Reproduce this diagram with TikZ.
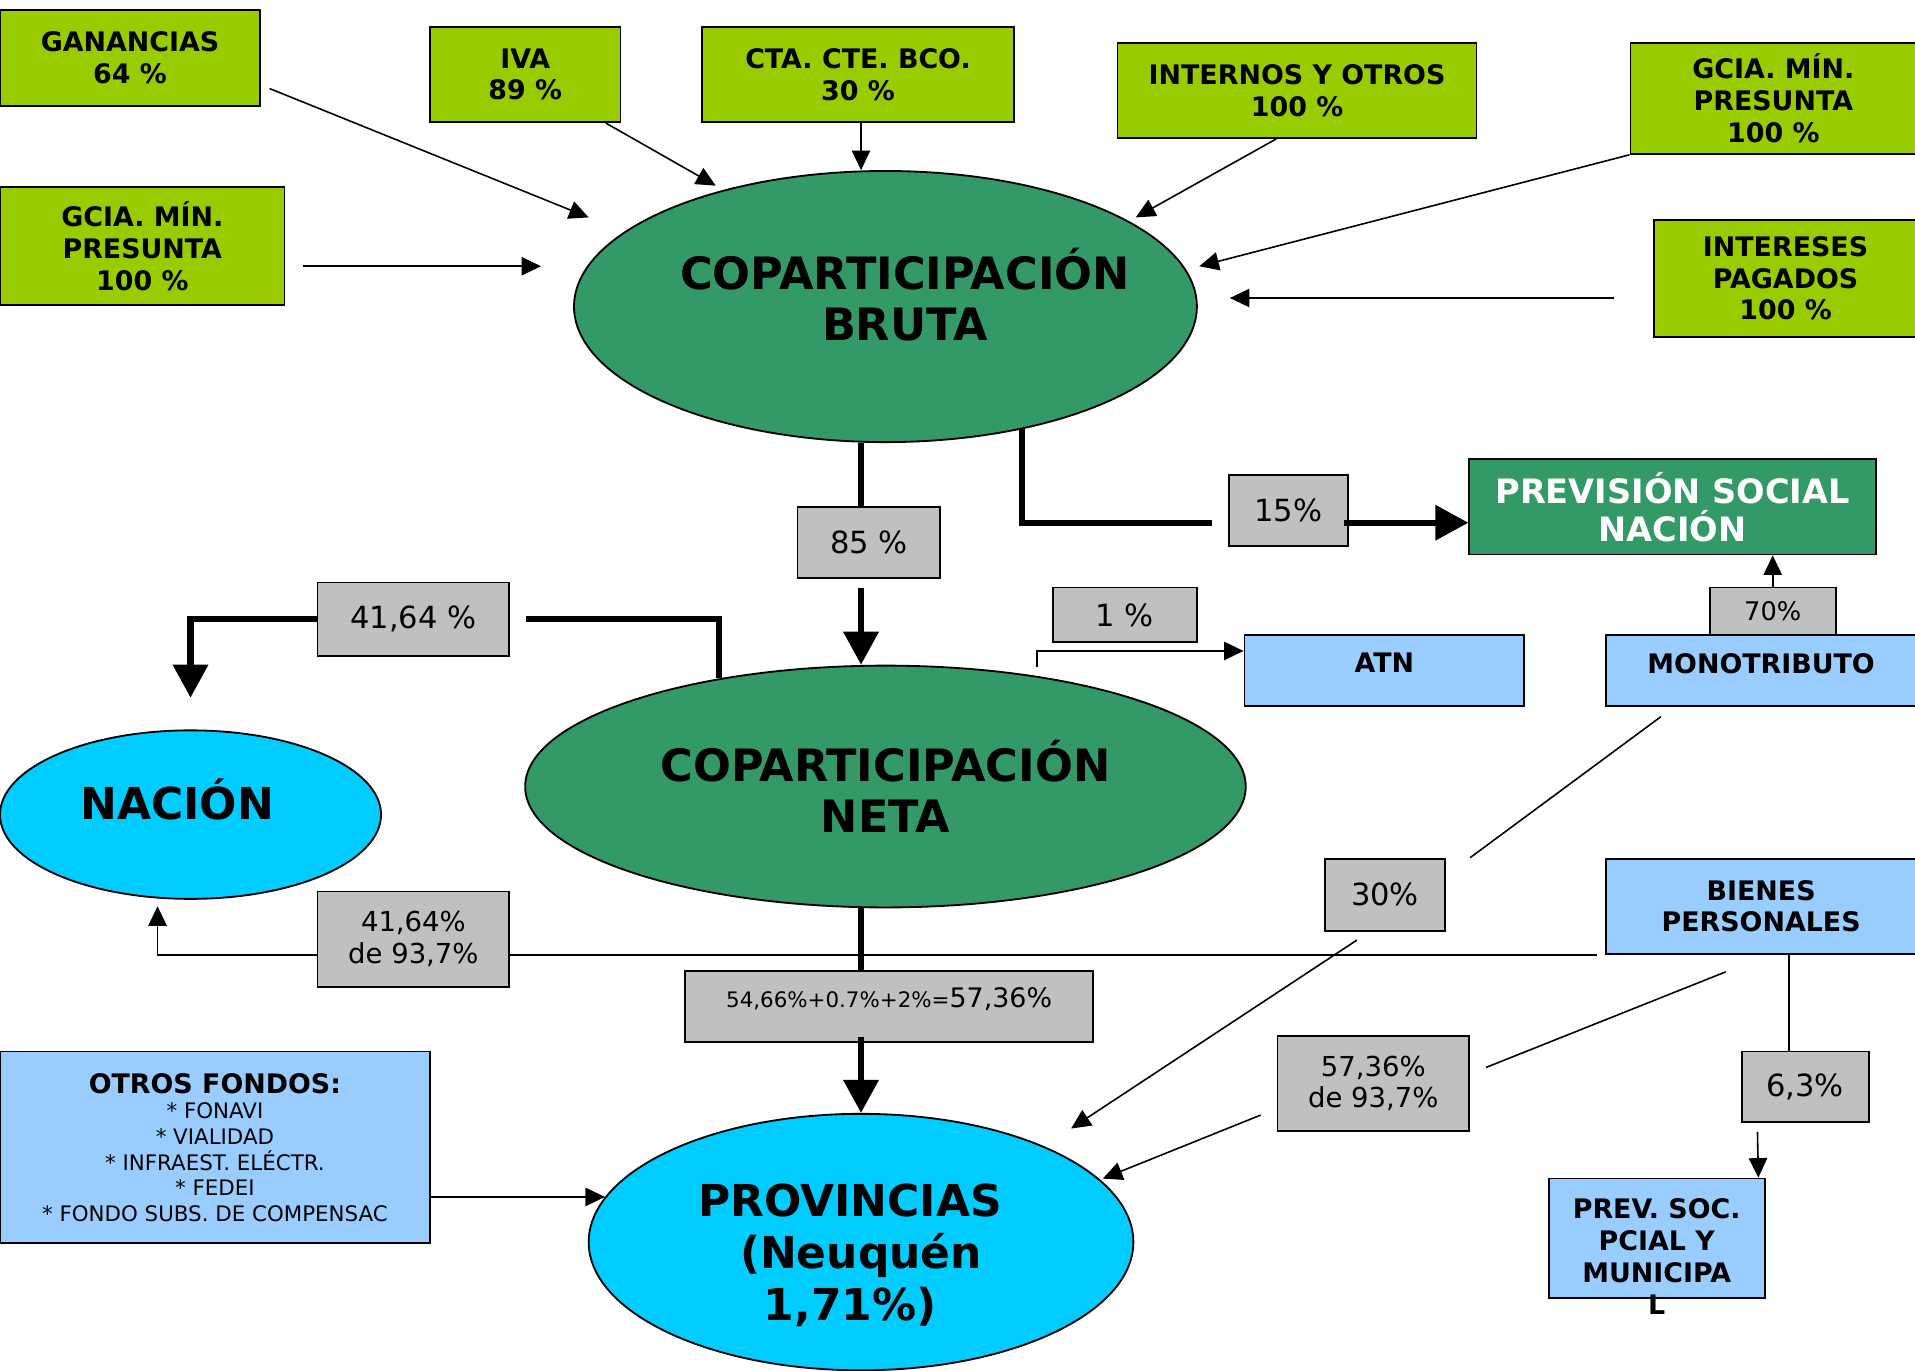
\documentclass[tikz,border=0pt]{standalone}
\usepackage{fontspec}
\setmainfont{DejaVu Sans}
\usetikzlibrary{arrows.meta,shapes.geometric}

\definecolor{verdeclaro}{HTML}{99CC00}
\definecolor{verdeosc}{HTML}{339966}
\definecolor{celeste}{HTML}{99CCFF}
\definecolor{cian}{HTML}{00CCFF}
\definecolor{gris}{HTML}{C0C0C0}

\newcommand{\bajo}[1]{\rule[-#1pt]{0pt}{0pt}}

\tikzset{
  caja/.style={draw=black, line width=1.5pt, inner sep=0pt, align=center},
  impuesto/.style={caja, fill=verdeclaro, font=\fontsize{22}{26}\selectfont\bfseries},
  pct/.style={caja, fill=gris, font=\fontsize{25}{27}\selectfont},
  pctdos/.style={caja, fill=gris, font=\fontsize{22.5}{26}\selectfont},
  fondo/.style={caja, fill=celeste, font=\fontsize{22}{26}\selectfont\bfseries},
  masa/.style={ellipse, caja, font=\fontsize{36.5}{42}\selectfont\bfseries},
  flujo/.style={line width=1.3pt, -{Triangle[length=16pt,width=15pt]}},
  linea/.style={line width=1.3pt},
  grueso/.style={line width=5pt},
  gruesoflecha/.style={line width=5pt, -{Triangle[length=27pt,width=28pt]}}
}

\begin{document}
\begin{tikzpicture}[x=1pt,y=-1pt]
  \useasboundingbox[fill=white] (0,0) rectangle (1568,1122);
  \node[impuesto, minimum width=213, minimum height=79] (ganan) at (106.5,47.5) {GANANCIAS\\64 \%};
  \node[impuesto, minimum width=156, minimum height=78] (iva) at (430,61) {IVA\\89 \%};
  \node[impuesto, minimum width=255, minimum height=78] (cta) at (702.5,61) {CTA. CTE. BCO.\\30 \%};
  \node[impuesto, minimum width=294, minimum height=78] (internos) at (1062,74) {INTERNOS Y OTROS\\100 \%};
  \node[impuesto, minimum width=234, minimum height=91] (gmpder) at (1452,80.5) {GCIA. MÍN.\\PRESUNTA\\100 \%};
  \node[impuesto, minimum width=233, minimum height=97] (gmpizq) at (116.5,201.5) {GCIA. MÍN.\\PRESUNTA\\100 \%};
  \node[impuesto, minimum width=216, minimum height=96] (intereses) at (1462,228) {INTERESES\\PAGADOS\\100 \%};
  \node[masa, fill=verdeosc, inner xsep=-40pt, minimum width=510, minimum height=222] (bruta) at (725,251) {\hspace*{32pt}COPARTICIPACIÓN\\\hspace*{32pt}BRUTA\bajo{20}};
  \node[pct, minimum width=117, minimum height=58] (p85) at (711.5,444) {85 \%};
  \node[pct, minimum width=98, minimum height=58] (p15) at (1055,418) {15\%};
  \node[caja, fill=verdeosc, text=white, font=\fontsize{27.5}{31}\selectfont\bfseries, minimum width=333, minimum height=78] (prevnac) at (1369.5,415) {PREVISIÓN SOCIAL\\NACIÓN};
  \node[pct, minimum width=118, minimum height=45] (p1) at (921,503.5) {1 \%};
  \node[fondo, minimum width=229, minimum height=58] (atn) at (1133.5,549) {ATN\bajo{12}};
  \node[fondo, minimum width=254, minimum height=58] (mono) at (1442,549) {MONOTRIBUTO\bajo{12}};
  \node[pct, font=\fontsize{21}{25}\selectfont, minimum width=103, minimum height=39] (p70) at (1451.5,500.5) {70\%};
  \node[pct, minimum width=157, minimum height=60] (p4164) at (338.5,507) {41,64 \%};
  \node[masa, fill=cian, font=\fontsize{36}{42}\selectfont\bfseries, minimum width=312, minimum height=138] (nacion) at (156,667) {NACIÓN\hspace*{22pt}\bajo{26}};
  \node[masa, fill=verdeosc, minimum width=590, minimum height=198] (neta) at (725,644) {COPARTICIPACIÓN\\NETA};
  \node[pctdos, minimum width=157, minimum height=78] (p4164b) at (338.5,769) {41,64\%\\de 93,7\%};
  \node[pct, font=\fontsize{22}{26}\selectfont, minimum width=334, minimum height=58] (p5736) at (728,824) {{\fontsize{17.5}{21}\selectfont 54,66\%+0.7\%+2\%=}57,36\%\bajo{14}};
  \node[masa, fill=cian, font=\fontsize{36}{42.5}\selectfont\bfseries, minimum width=446, minimum height=210] (prov) at (705,1017) {\rule{0pt}{48pt}PROVINCIAS\hspace*{18pt}\\(Neuquén\hspace*{18pt}\\1,71\%)\hspace*{18pt}};
  \node[fondo, font=\fontsize{17.5}{21}\selectfont, minimum width=352, minimum height=157] (otros) at (176,939.5) {{\fontsize{22}{26}\selectfont\bfseries OTROS FONDOS:}\\{*} FONAVI\\{*} VIALIDAD\\{*} INFRAEST. ELÉCTR.\\{*} FEDEI\\{*} FONDO SUBS. DE COMPENSAC};
  \node[pct, minimum width=98, minimum height=59] (p30) at (1134,732.5) {30\%};
  \node[fondo, minimum width=254, minimum height=78] (bienes) at (1442,742) {BIENES\\PERSONALES};
  \node[pctdos, minimum width=157, minimum height=78] (p5736b) at (1124.5,887) {57,36\%\\de 93,7\%};
  \node[pct, minimum width=104, minimum height=58] (p63) at (1478,890) {6,3\%};
  \node[fondo, minimum width=177, minimum height=98] (prevsoc) at (1356.5,1014) {\raisebox{-46pt}{\smash{\begin{tabular}{@{}c@{}}PREV. SOC.\\PCIAL Y\\MUNICIPA\\L\end{tabular}}}};

  \coordinate (ejeY) at (705,0);
  \coordinate (tganan) at (482,178);
  \coordinate (tiva) at (586,152);
  \coordinate (tinternos) at (930,178);
  \coordinate (tgmpder) at (982,218);
  \coordinate (tgmpizq) at (443,218);
  \coordinate (tintereses) at (1007,244);
  \coordinate (pieatn) at (849,546);
  \coordinate (tnacion) at (129,742);
  \coordinate (tprovA) at (877,924);
  \coordinate (tprovB) at (903,965);

  \draw[flujo] ([shift={(7,25)}]ganan.east) -- (tganan);
  \draw[flujo] ([xshift=66pt]iva.south) -- (tiva);
  \draw[flujo] (cta.south -| ejeY) -- (bruta.north -| ejeY);
  \draw[flujo] ([xshift=-17pt]internos.south) -- (tinternos);
  \draw[flujo] (gmpder.south west) -- (tgmpder);
  \draw[flujo] ([shift={(14,16.5)}]gmpizq.east) -- (tgmpizq);
  \draw[flujo] ([shift={(-32,16)}]intereses.west) -- (tintereses);

  \draw[grueso] (bruta.south -| ejeY) -- (p85.north -| ejeY);
  \draw[gruesoflecha, shorten <=8pt] (p85.south -| ejeY) -- (neta.north -| ejeY);
  \draw[grueso] (bruta.-42) |- ([shift={(-13,10)}]p15.west);
  \draw[gruesoflecha] ([shift={(-4,10)}]p15.east) -- ([yshift=-13pt]prevnac.west);
  \draw[flujo] (pieatn) |- ([yshift=16pt]atn.west);
  \draw[flujo] (p70.north) -- (prevnac.south -| p70.north);
  \draw[grueso] (neta.147.6) |- ([xshift=13pt]p4164.east);
  \draw[gruesoflecha, shorten >=26pt] (p4164.west) -| (nacion.north);
  \draw[grueso] (neta.south -| ejeY) -- (p5736.north -| ejeY);
  \draw[gruesoflecha, shorten <=-5pt] (p5736.south -| ejeY) -- (prov.north -| ejeY);

  \draw[linea] ([xshift=-7pt]bienes.south west) -- (p4164b.east |- bienes.south west);
  \draw[flujo] (p4164b.west |- bienes.south west) -| (tnacion);
  \draw[linea] ([shift={(-82,8)}]mono.south) -- ([xshift=20pt]p30.north east);
  \draw[flujo] ([shift={(-23,7)}]p30.south) -- (tprovA);
  \draw[linea] ([shift={(-29,14)}]bienes.south) -- ([shift={(13,-13)}]p5736b.east);
  \draw[flujo] ([shift={(-13,26)}]p5736b.west) -- (tprovB);
  \draw[linea] ([xshift=23pt]bienes.south) -- ([xshift=-13pt]p63.north);
  \draw[flujo] ([shift={(-39,7)}]p63.south) -- ([xshift=-6pt]prevsoc.north east);
  \draw[flujo] (otros.east |- prov.170) -- (prov.170);
\end{tikzpicture}
\end{document}
